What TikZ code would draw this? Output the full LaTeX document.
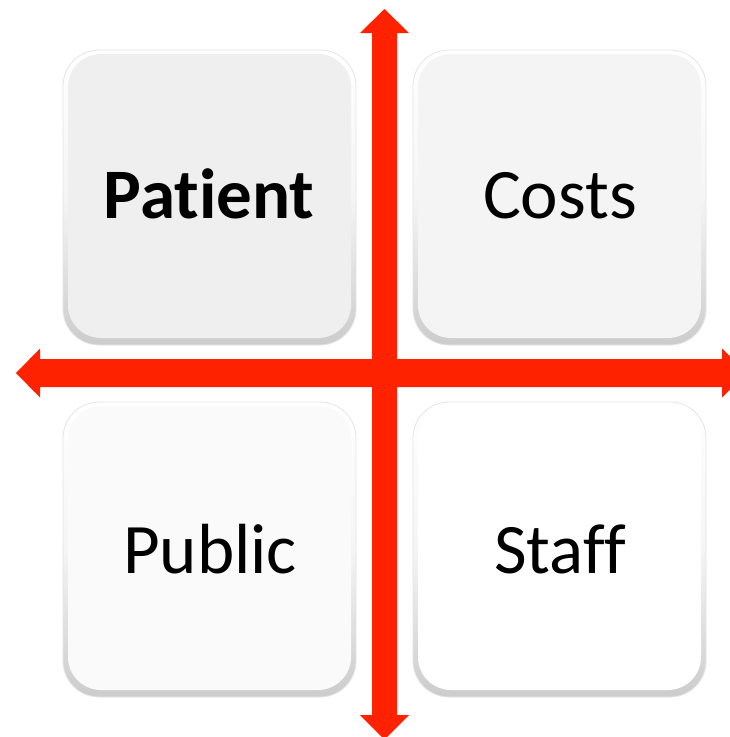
\documentclass[tikz,border=0pt]{standalone}
\usepackage{fontspec}
\setmainfont{Carlito}[Ligatures=NoCommon]
\definecolor{arrowred}{HTML}{FF2200}
\definecolor{faceA}{HTML}{EFEFEF}
\definecolor{faceB}{HTML}{F4F4F4}
\definecolor{faceC}{HTML}{FAFAFA}
\definecolor{faceD}{HTML}{FFFFFF}
\tikzset{
  bevel/.style={rounded corners=36pt, top color=white, bottom color=black!20, middle color=black!4, draw=black!10, line width=0.8pt},
  face/.style={rounded corners=33pt, draw=none},
  lbl/.style={font=\fontsize{71}{80}\selectfont, inner sep=0pt, anchor=base},
  redarrow/.style={fill=arrowred, draw=none}
}
\begin{document}
\begin{tikzpicture}[x=1pt,y=-1pt]
\useasboundingbox (0,0) rectangle (730,737);
\fill[white] (0,0) rectangle (730,737);
% boxes
\foreach \x/\y/\c in {63/50/faceA,413/50/faceB,63/402/faceC,413/402/faceD}{
  \path[bevel] (\x,\y) rectangle ++(293,295);
  \path[face, fill=\c] (\x+5,\y+4) rectangle ++(283,284);
}
\node[lbl, font=\fontsize{71}{80}\selectfont\bfseries] (patient) at (209,218) {Patient};
\node[lbl] (costs) at (560,218) {Costs};
\node[lbl] (public) at (210,573) {Public};
\node[lbl] (staff) at (560,573) {Staff};
% vertical arrow
\fill[redarrow] (384.5,9) -- (409,33) -- (397,33) -- (397,715) -- (409,715) -- (384.5,739.5)
  -- (360,715) -- (372,715) -- (372,33) -- (360,33) -- cycle;
% horizontal arrow
\fill[redarrow] (16,373) -- (40,348.5) -- (40,359) -- (722,359) -- (722,348.5) -- (746.5,373)
  -- (722,397.5) -- (722,387) -- (40,387) -- (40,397.5) -- cycle;
\end{tikzpicture}
\end{document}
